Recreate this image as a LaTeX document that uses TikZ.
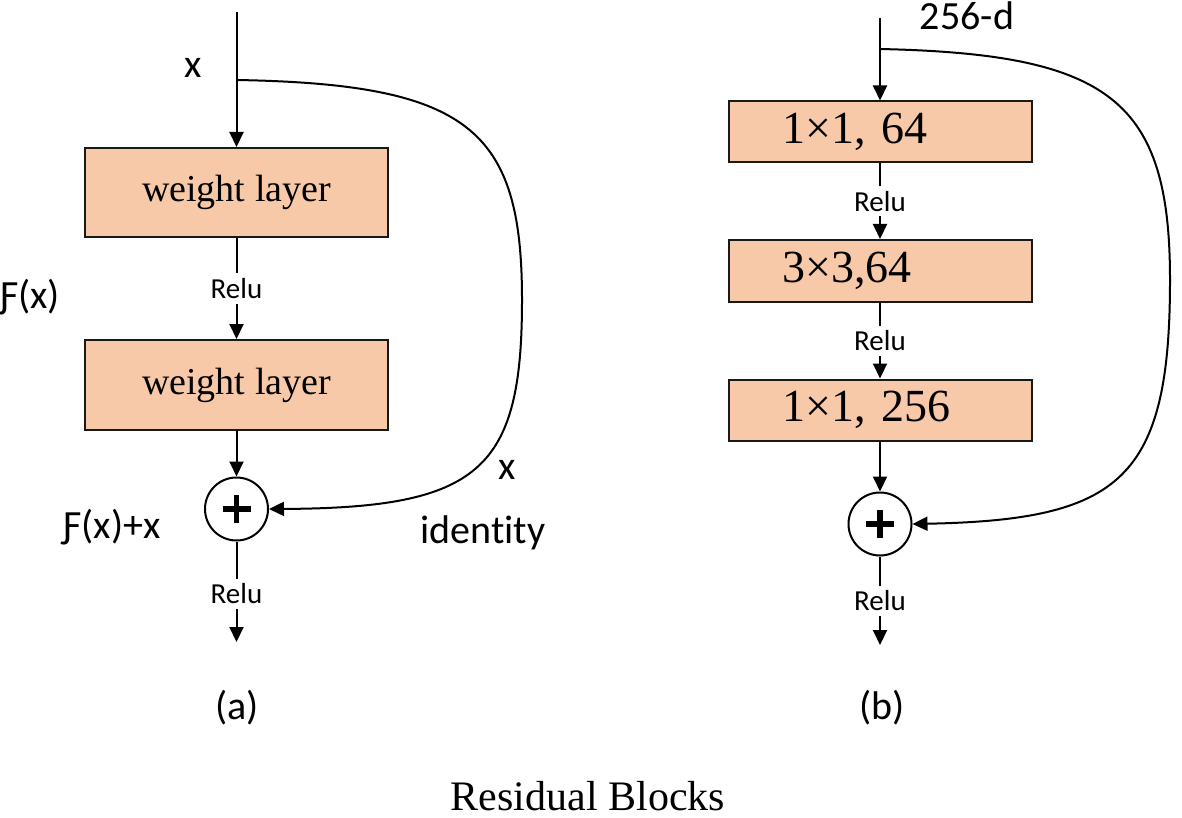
\documentclass[tikz,border=0pt]{standalone}
\usepackage{fontspec}
\setmainfont{Liberation Serif}
\newfontfamily\lblfont{Carlito}[RawFeature=-liga]
\usetikzlibrary{arrows.meta}
\definecolor{boxfill}{HTML}{F7C9A9}
\tikzset{
  lay/.style={draw=black!90, line width=2pt, fill=boxfill, minimum width=303pt, inner sep=0pt,
     font=\fontsize{38}{40}\selectfont},
  laynum/.style={lay, font=\fontsize{46}{48}\selectfont, text width=195pt, align=left, inner xsep=54pt},
  addc/.style={draw, line width=2pt, circle, minimum size=63pt, inner sep=0pt},
  lbl/.style={font=\lblfont\fontsize{40}{42}\selectfont, inner sep=0pt},
  relu/.style={font=\lblfont\fontsize{29}{31}\selectfont, fill=white, inner sep=5pt},
  arr/.style={line width=2pt, -{Triangle[length=15pt,width=14pt]}},
  plusbar/.style={line width=5.5pt}
}
\begin{document}
\begin{tikzpicture}[x=1pt,y=-1pt]
\useasboundingbox (0,0) rectangle (1182,818);
% ---------- (a)
\coordinate (atop) at (236.5,12);
\coordinate (abr) at (236.5,80);
\node[lay, minimum height=89pt] (a1) at (236.5,192.5) {weight layer};
\node[lay, minimum height=90pt] (a2) at (236.5,385) {weight layer};
\node[addc] (aplus) at (236.5,509) {};
\coordinate (aend) at (236.5,642);
\draw[arr] (atop) -- (a1.north);
\draw[arr] (a1.south) -- node[relu]{Relu} (a2.north);
\draw[arr] (a2.south) -- (aplus.north);
\draw[arr] (aplus.south) -- node[relu, pos=0.52]{Relu} (aend);
\draw[plusbar] ([xshift=-14pt]aplus.center) -- ([xshift=14pt]aplus.center);
\draw[plusbar] ([yshift=-14pt]aplus.center) -- ([yshift=14pt]aplus.center);
\draw[arr] (abr) .. controls (470,84) and (522,130) .. (522,300)
   .. controls (522,470) and (480,508) .. (aplus.east);
\node[lbl] (ax) at (193,68) {x};
\node[lbl] (afx) at (30,297) {Ƒ(x)};
\node[lbl] (afxx) at (112,527) {Ƒ(x)+x};
\node[lbl] (ax2) at (507,470) {x};
\node[lbl] (aid) at (483,533) {identity};
\node[lbl] (acap) at (237,708) {(a)};
% ---------- (b)
\coordinate (btop) at (880,18);
\coordinate (bbr) at (880,49);
\node[laynum, minimum height=61pt] (b1) at (880,132) {1×1, 64};
\node[laynum, minimum height=62pt] (b2) at (880,271) {3×3,64};
\node[laynum, minimum height=61pt] (b3) at (880,410) {1×1, 256};
\node[addc] (bplus) at (880,524) {};
\coordinate (bend) at (880,645);
\draw[arr] (btop) -- (b1.north);
\draw[arr] (b1.south) -- node[relu]{Relu} (b2.north);
\draw[arr] (b2.south) -- node[relu]{Relu} (b3.north);
\draw[arr] (b3.south) -- (bplus.north);
\draw[arr] (bplus.south) -- node[relu, pos=0.5]{Relu} (bend);
\draw[plusbar] ([xshift=-14pt]bplus.center) -- ([xshift=14pt]bplus.center);
\draw[plusbar] ([yshift=-14pt]bplus.center) -- ([yshift=14pt]bplus.center);
\draw[arr] (bbr) .. controls (1110,54) and (1170,100) .. (1170,280)
   .. controls (1170,480) and (1120,520) .. (bplus.east);
\node[lbl] (bd) at (967,16) {256-d};
\node[lbl] (bcap) at (882,708) {(b)};
% ---------- title
\node[font=\fontsize{42}{44}\selectfont, inner sep=0pt] (title) at (588,796) {Residual Blocks};
\end{tikzpicture}
\end{document}
